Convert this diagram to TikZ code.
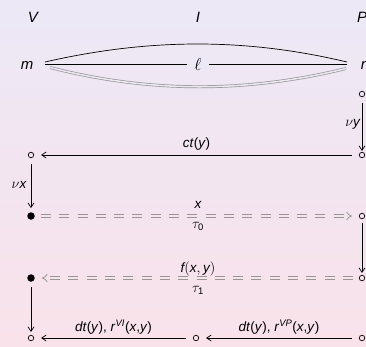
\documentclass[tikz,border=0pt]{standalone}
\usepackage{amsmath}
\usepackage{fontspec}
\setmainfont{Liberation Sans}
\usetikzlibrary{arrows.meta}
\definecolor{bgtop}{RGB}{236,232,246}
\definecolor{bgbot}{RGB}{249,226,234}
\definecolor{dgray}{RGB}{150,150,150}
\newcommand{\iv}[1]{\textit{#1}}
\tikzset{
  big/.style={font=\fontsize{15}{17}\selectfont\itshape, inner sep=0pt},
  lab/.style={font=\fontsize{13.5}{15}\selectfont, inner sep=1pt},
  opn/.style={circle, draw, line width=0.7pt, minimum size=5.5pt, inner sep=0pt},
  fil/.style={circle, fill, minimum size=7.5pt, inner sep=0pt},
  arr/.style={-{Straight Barb[length=4.5pt,width=6pt]}, line width=0.7pt},
  darr/.style={-{Implies}, draw=dgray, double=bgbot, double distance=2pt, line width=0.8pt, dash pattern=on 10pt off 8.3pt},
}
\begin{document}
\begin{tikzpicture}[x=1pt,y=-1pt]
\shade[top color=bgtop, bottom color=bgbot] (0,0) rectangle (366,346);
\useasboundingbox (0,0) rectangle (366,346);
% headers
\node[big] (V) at (33,17) {V};
\node[big] (I) at (198,17) {I};
\node[big] (P) at (362,17) {P};
\node[big] (m) at (27,65) {m};
\node[big] (n) at (365,65) {n};
\coordinate (mA) at (45,62);
\coordinate (nA) at (347,62);
\coordinate (mB) at (45,64);
\coordinate (nB) at (347,64);
\coordinate (mC) at (50,67.5);
\coordinate (nC) at (346,68.5);
\draw[line width=0.7pt] (mA) .. controls (150,38) and (246,38) .. (nA);
\node[big, fill=bgtop, inner xsep=7pt] (ell) at (198,64) {\fontsize{16}{18}\selectfont$\ell$};
\draw[line width=0.7pt] (mB) -- (ell.west);
\draw[line width=0.7pt] (ell.east) -- (nB);
\draw[draw=dgray, double=bgtop, double distance=1.5pt, line width=0.7pt] (mC) .. controls (150,93) and (246,93) .. (nC);
% states
\node[opn] (c1) at (362,94) {};
\node[opn] (c2) at (362,155) {};
\node[opn] (c3) at (31,155) {};
\node[fil] (d1) at (31,216) {};
\node[opn] (c4) at (362,216) {};
\node[opn] (c5) at (362,278) {};
\node[fil] (d2) at (31,278) {};
\node[opn] (c6) at (31,338) {};
\node[opn] (c7) at (196,338) {};
\node[opn] (c8) at (362,338) {};
% arrows
\draw[arr, shorten <=6pt, shorten >=1pt] (c1) -- node[lab, left] {$\nu$\iv{y}} (c2);
\draw[arr, shorten <=7pt, shorten >=7pt] (c2) -- node[lab, above=3pt] {\iv{ct}(\iv{y})} (c3);
\draw[arr, shorten <=6pt, shorten >=4pt] (c3) -- node[lab, left=3pt] {$\nu$\iv{x}} (d1);
\draw[darr, shorten <=6pt, shorten >=7pt] (d1) -- (c4);
\node[lab] (f1) at (198,216) {$\genfrac{}{}{0pt}{0}{\text{\itshape x}}{\tau_{\text{0}}}$};
\draw[arr, shorten <=4pt, shorten >=2pt] (c4) -- (c5);
\draw[darr, shorten <=6pt, shorten >=7pt] (c5) -- (d2);
\node[lab] (f2) at (198,278) {$\genfrac{}{}{0pt}{0}{\text{\itshape f}(\text{\itshape x},\text{\itshape y})}{\tau_{\text{1}}}$};
\draw[arr, shorten <=5pt, shorten >=3pt] (d2) -- (c6);
\draw[arr, shorten <=7pt, shorten >=7pt] (c8) -- node[lab, above=2pt] {\iv{dt}(\iv{y}), \iv{r}\textsuperscript{\iv{VP}}(\iv{x},\iv{y})} (c7);
\draw[arr, shorten <=7pt, shorten >=7pt] (c7) -- node[lab, above=2pt] {\iv{dt}(\iv{y}), \iv{r}\textsuperscript{\iv{VI}}(\iv{x},\iv{y})} (c6);
\end{tikzpicture}
\end{document}
